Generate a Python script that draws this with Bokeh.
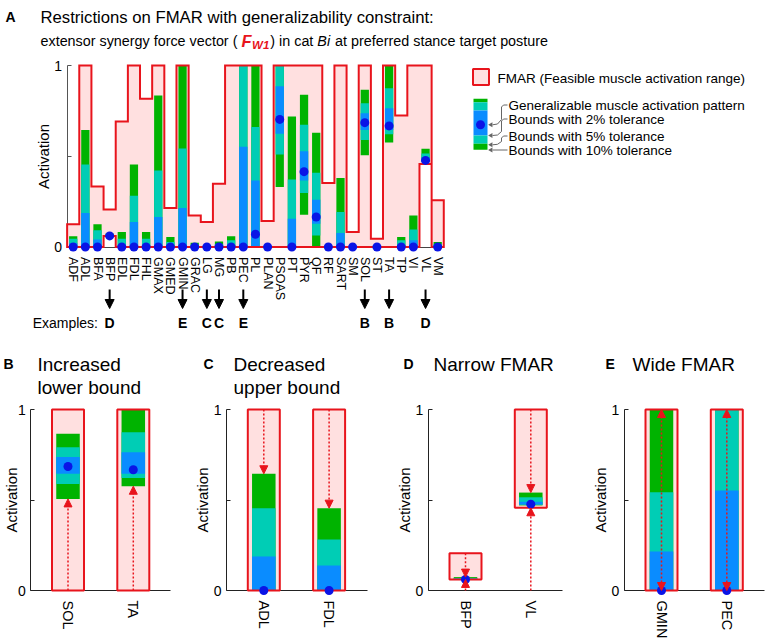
import math
from bokeh.plotting import figure
from bokeh.models import Range1d, LinearAxis, FixedTicker, ColumnDataSource, Arrow, NormalHead
from bokeh.core.properties import value
from bokeh.embed import file_html
from bokeh.resources import INLINE

# ---------------- data ----------------
muscles = ["ADF", "ADL", "BFA", "BFP", "EDL", "FDL", "FHL", "GMAX", "GMED", "GMIN",
           "GRAC", "LG", "MG", "PB", "PEC", "PL", "PLAN", "PSOAS", "PT", "PYR",
           "QF", "RF", "SART", "SM", "SOL", "ST", "TA", "TP", "VI", "VL", "VM"]
fmar_lower = [0, 0, 0, 0.061, 0, 0, 0, 0, 0, 0,
              0, 0, 0, 0, 0, 0, 0, 0, 0, 0,
              0, 0, 0, 0, 0, 0, 0, 0, 0, 0.457, 0]
fmar_upper = [0.125, 1, 0.334, 0.206, 0.692, 1, 0.817, 1, 0.215, 1,
              0.174, 0.138, 0.349, 1, 1, 1, 0.143, 1, 1, 1,
              1, 0.352, 1, 0.083, 1, 0.046, 1, 0.725, 1, 1, 0.257]
tol10_lower = [0, 0, 0, 0.058, 0, 0, 0, 0, 0, 0,
               0, 0, 0, 0, 0, 0, 0, 0.330, 0, 0.178,
               0, 0, 0, 0, 0.506, 0, 0.576, 0, 0, 0.470, 0]
tol5_lower = [0, 0, 0, 0.060, 0, 0, 0, 0, 0, 0,
              0, 0, 0, 0, 0, 0, 0, 0.510, 0, 0.297,
              0.064, 0, 0, 0, 0.589, 0, 0.621, 0, 0, 0.473, 0]
tol2_lower = [0, 0, 0, 0.061, 0, 0, 0, 0, 0, 0,
              0, 0, 0, 0, 0, 0, 0, 0.624, 0, 0.367,
              0.128, 0, 0, 0, 0.645, 0, 0.645, 0, 0, 0.475, 0]
tol2_upper = [0.022, 0.188, 0.042, 0.066, 0.010, 0.138, 0.010, 0.165, 0.005, 0.215,
              0.005, 0, 0.005, 0.010, 0.552, 0.367, 0, 0.886, 0.156, 0.527,
              0.261, 0, 0.077, 0, 0.737, 0, 0.764, 0.010, 0.037, 0.490, 0.005]
tol5_upper = [0.046, 0.455, 0.092, 0.069, 0.046, 0.282, 0.046, 0.422, 0.028, 0.543,
              0.012, 0, 0.015, 0.037, 1.0, 0.661, 0, 1.0, 0.372, 0.673,
              0.409, 0, 0.193, 0, 0.792, 0, 0.875, 0.037, 0.097, 0.515, 0.015]
tol10_upper = [0.059, 0.645, 0.125, 0.074, 0.083, 0.455, 0.083, 0.835, 0.055, 1.0,
               0.024, 0, 0.030, 0.059, 1.0, 1.0, 0, 1.0, 0.719, 0.839,
               0.629, 0, 0.380, 0, 0.866, 0, 1.0, 0.055, 0.174, 0.541, 0.028]
pattern = [0, 0, 0, 0.061, 0, 0, 0, 0, 0, 0,
           0, 0, 0, 0, 0, 0.070, 0, 0.703, 0, 0.415,
           0.165, 0, 0, 0, 0.685, 0, 0.667, 0, 0, 0.477, 0]

example_muscles = ["BFP", "GMIN", "LG", "MG", "PEC", "SOL", "TA", "VL"]
example_letters = ["D", "E", "C", "C", "E", "B", "B", "D"]

panel_letters = ["B", "C", "D", "E"]
panel_titles = [["Increased", "lower bound"], ["Decreased", "upper bound"],
                ["Narrow FMAR"], ["Wide FMAR"]]
panel_muscles = [["SOL", "TA"], ["ADL", "FDL"], ["BFP", "VL"], ["GMIN", "PEC"]]
panel_kinds = ["lower", "upper", "narrow", "wide"]

# ---------------- layout / style ----------------
FIG_W, FIG_H, MARGIN = 767, 643, 0
FONT = "Liberation Sans"
PINK, RED = "#FFE0E0", "#E8141C"
GREEN, CYAN, BLUE, DOT = "#00B300", "#00CDB5", "#0A8CFF", "#0A14E6"

A_X0, A_KX = 72.7, 12.15      # page x of first muscle, px per muscle
A_Y0, A_KY = 246.5, 181.5     # page y of activation 0, px per unit
P_Y0, P_KY = 590.0, 181.0     # bottom panels
P_KX = 65.3
P_C1 = [67.5, 263.3, 465.0, 661.0]
P_XSTART = 0.43
P_XEND = [2.57, 2.59, 2.49, 2.57]
P_YLABEL_STANDOFF = [-5, 0, 0, 0]
P_LETTER_X = [3, 203, 403, 605]
P_TITLE_X = [37, 233, 433, 632]


def range_x(v, p_page, k):
    return Range1d(start=v - (p_page - MARGIN) / k, end=v + (MARGIN + FIG_W - p_page) / k)


def range_y(v, p_page, k):
    return Range1d(start=v - (MARGIN + FIG_H - p_page) / k, end=v + (p_page - MARGIN) / k)


def ax(p):
    return (p - A_X0) / A_KX


def ay(p):
    return (A_Y0 - p) / A_KY


AW = {' ': 278, '(': 333, ')': 333, ':': 278, 'a': 556, 'b': 556, 'c': 500, 'd': 556,
      'e': 556, 'f': 278, 'g': 556, 'h': 556, 'i': 222, 'k': 500, 'l': 222, 'm': 833,
      'n': 556, 'o': 556, 'p': 556, 'r': 333, 's': 500, 't': 278, 'u': 556, 'v': 500,
      'w': 722, 'x': 500, 'y': 500, 'z': 500, 'A': 667, 'B': 667, 'F': 611, 'W': 944, '1': 556}


def tw(s, size):
    return sum(AW.get(c, 556) for c in s) * size / 1000.0


p = figure(width=FIG_W, height=FIG_H,
           x_range=range_x(0, A_X0, A_KX), y_range=range_y(0, A_Y0, A_KY),
           x_axis_type=None, y_axis_type=None, toolbar_location=None,
           output_backend="svg", min_border=0, outline_line_color=None)
p.title.visible = False
p.background_fill_color = "white"
p.border_fill_color = "white"

p.extra_y_ranges = {"yP": range_y(0, P_Y0, P_KY)}
p.extra_x_ranges = {f"x{k}": range_x(1, P_C1[k], P_KX) for k in range(4)}


def txt(x, y, s, size, style="normal", color="black", align="left",
        baseline="alphabetic", **kw):
    p.text(x=x if isinstance(x, list) else [x], y=y if isinstance(y, list) else [y],
           text=s if isinstance(s, list) else [s],
           text_font=value(FONT), text_font_size=f"{size}px", text_font_style=style,
           text_color=color, text_align=align, text_baseline=baseline, **kw)


def style_axis(a, color, label_size, standoff):
    a.level = "underlay"
    a.axis_line_color = color
    a.axis_line_width = 1
    a.major_tick_line_color = color
    a.major_tick_in = 4
    a.major_tick_out = 0
    a.minor_tick_line_color = None
    a.major_label_text_font = FONT
    a.major_label_text_font_size = f"{label_size}px"
    a.major_label_text_color = "black"
    a.major_label_standoff = standoff
    a.axis_label_text_font = FONT
    a.axis_label_text_font_size = "15px"
    a.axis_label_text_font_style = "normal"
    a.axis_label_text_color = "black"


# ---------------- panel A ----------------
n = len(muscles)
idx = list(range(n))
poly_x, poly_y = [], []
for i in idx:
    poly_x += [i - 0.5, i + 0.5]
    poly_y += [fmar_upper[i], fmar_upper[i]]
for i in reversed(idx):
    poly_x += [i + 0.5, i - 0.5]
    poly_y += [fmar_lower[i], fmar_lower[i]]

src = ColumnDataSource(dict(x=idx, lo10=tol10_lower, lo5=tol5_lower, lo2=tol2_lower,
                            hi2=tol2_upper, hi5=tol5_upper, hi10=tol10_upper, pat=pattern))

yA = LinearAxis(fixed_location=-0.5, bounds=(0, 1), ticker=FixedTicker(ticks=[0, 0.5, 1]),
                major_label_overrides={0: "0", 0.5: "", 1: "1"}, axis_label="Activation",
                axis_label_standoff=0)
style_axis(yA, "#555555", 14, 5)
p.add_layout(yA, "left")
xA = LinearAxis(fixed_location=0, bounds=(-0.5, n - 0.5), ticker=FixedTicker(ticks=idx),
                major_label_overrides={i: m for i, m in zip(idx, muscles)},
                major_label_orientation="vertical")
style_axis(xA, "#444444", 12.5, 10)
xA.major_tick_line_color = None
p.add_layout(xA, "below")

p.patch(poly_x, poly_y, fill_color=PINK, line_color=None)
p.vbar(x="x", width=0.68, bottom="lo10", top="hi10", source=src, fill_color=GREEN, line_color=None)
p.vbar(x="x", width=0.68, bottom="lo5", top="hi5", source=src, fill_color=CYAN, line_color=None)
p.vbar(x="x", width=0.68, bottom="lo2", top="hi2", source=src, fill_color=BLUE, line_color=None)
p.patch(poly_x, poly_y, fill_color=None, line_color=RED, line_width=2, line_join="miter")
p.scatter("x", "pat", source=src, size=9, fill_color=DOT, line_color=None)

# titles
txt(ax(5), ay(16), "A", 14, "bold")
txt(ax(40), ay(16.5), "Restrictions on FMAR with generalizability constraint:", 16.7)
L2 = 14.35
s1 = "extensor synergy force vector ("
x1 = 40
xF = x1 + tw(s1 + " ", L2)
xW = xF + tw("F", 16.5) + 0.5
xP = xW + tw("W1", 11.5) + 1
s4 = ") in cat"
xB = xP + tw(s4 + " ", L2)
xR = xB + tw("Bi ", L2) + 1
txt(ax(x1), ay(40.5), s1, L2)
txt(ax(xF), ay(40.5), "F", 16.5, "bold italic", RED)
txt(ax(xW), ay(44), "W1", 11.5, "bold italic", RED)
txt(ax(xP), ay(40.5), s4, L2)
txt(ax(xB), ay(40.5), "Bi", L2, "italic")
txt(ax(xR), ay(40.5), "at preferred stance target posture", L2)

# examples row
ex_x = [muscles.index(m) for m in example_muscles]
ex_src = ColumnDataSource(dict(x0=ex_x, y0=[ay(289)] * len(ex_x), y1=[ay(308)] * len(ex_x)))
p.add_layout(Arrow(source=ex_src, x_start="x0", y_start="y0", x_end="x0", y_end="y1",
                   line_color="black", line_width=2,
                   end=NormalHead(size=9, fill_color="black", line_color="black")))
txt(ex_x, [ay(322)] * len(ex_x), example_letters, 14, "bold", align="center")
txt(ax(97.5), ay(322), "Examples:", 14, align="right")

# legend (key drawn at fixed pixel positions)
txt(ax(497), ay(77.5), "FMAR (Feasible muscle activation range)", 13.5, baseline="middle")
p.rect(x=[ax(480.5)], y=[ay(76.5)], width=16, height=16, width_units="screen",
       height_units="screen", fill_color=PINK, line_color=RED, line_width=2)
leg_segments = [(98.3, 101.7, GREEN), (101.7, 110, CYAN), (110, 135, BLUE),
                (135, 143.3, CYAN), (143.3, 149.3, GREEN)]
p.quad(left=[ax(473)] * 5, right=[ax(487)] * 5, top=[ay(s[0]) for s in leg_segments],
       bottom=[ay(s[1]) for s in leg_segments], fill_color=[s[2] for s in leg_segments],
       line_color=None)
p.scatter(x=[ax(480)], y=[ay(124.3)], size=9, fill_color=DOT, line_color=None)
leg_text = ["Generalizable muscle activation pattern", "Bounds with 2% tolerance",
            "Bounds with 5% tolerance", "Bounds with 10% tolerance"]
leg_ty = [104.5, 118.5, 135.5, 149.5]
leg_paths = [
    [(507, 104.5), (503, 104.5), (501, 106.5), (501, 119), (497, 123.5), (492, 124.3)],
    [(507, 118.5), (503, 118.5), (501, 120.5), (501, 131), (497, 134.5), (492, 135)],
    [(507, 135.5), (503, 135.5), (501, 137.5), (501, 141), (497, 143.8), (492, 144.3)],
    [(507, 149.5), (492, 149.5)],
]
p.multi_line(xs=[[ax(a) for a, b in pth] for pth in leg_paths],
             ys=[[ay(b) for a, b in pth] for pth in leg_paths], line_color="#666666", line_width=1)
p.scatter(x=[ax(pth[-1][0] - 1.5) for pth in leg_paths], y=[ay(pth[-1][1]) for pth in leg_paths],
          marker="triangle", angle=math.pi / 2, size=5, fill_color="#666666", line_color=None)
txt([ax(508)] * 4, [ay(v) for v in leg_ty], leg_text, 13.5, baseline="middle")

# ---------------- panels B-E ----------------
for k in range(4):
    xn = f"x{k}"
    names = panel_muscles[k]
    ii = [muscles.index(m) for m in names]
    xs = [1, 2]
    rn = dict(x_range_name=xn, y_range_name="yP")

    ya = LinearAxis(fixed_location=P_XSTART, bounds=(0, 1), ticker=FixedTicker(ticks=[0, 0.5, 1]),
                    major_label_overrides={0: "0", 0.5: "", 1: "1"}, axis_label="Activation",
                    axis_label_standoff=P_YLABEL_STANDOFF[k], **rn)
    style_axis(ya, "#222222", 14, 5)
    p.add_layout(ya, "left")
    xa = LinearAxis(fixed_location=0, bounds=(P_XSTART, P_XEND[k]), ticker=FixedTicker(ticks=xs),
                    major_label_overrides={1: names[0], 2: names[1]},
                    major_label_orientation="vertical", **rn)
    style_axis(xa, "#222222", 14.5, 10)
    xa.major_tick_line_color = None
    p.add_layout(xa, "below")

    ps = ColumnDataSource(dict(
        x=xs, flo=[fmar_lower[i] for i in ii], fhi=[fmar_upper[i] for i in ii],
        lo10=[tol10_lower[i] for i in ii], lo5=[tol5_lower[i] for i in ii],
        lo2=[tol2_lower[i] for i in ii], hi2=[tol2_upper[i] for i in ii],
        hi5=[tol5_upper[i] for i in ii], hi10=[tol10_upper[i] for i in ii],
        pat=[pattern[i] for i in ii]))
    p.vbar(x="x", width=0.49, bottom="flo", top="fhi", source=ps, fill_color=PINK, line_color=None, **rn)
    p.vbar(x="x", width=0.36, bottom="lo10", top="hi10", source=ps, fill_color=GREEN, line_color=None, **rn)
    p.vbar(x="x", width=0.36, bottom="lo5", top="hi5", source=ps, fill_color=CYAN, line_color=None, **rn)
    p.vbar(x="x", width=0.36, bottom="lo2", top="hi2", source=ps, fill_color=BLUE, line_color=None, **rn)
    p.vbar(x="x", width=0.49, bottom="flo", top="fhi", source=ps, fill_color=None, line_color=RED,
           line_width=2, **rn)

    arrows = []
    for x, i in zip(xs, ii):
        if panel_kinds[k] == "lower":
            arrows.append((x, 0, tol10_lower[i], False))
        elif panel_kinds[k] == "upper":
            arrows.append((x, fmar_upper[i], tol10_upper[i], False))
        elif panel_kinds[k] == "narrow":
            arrows.append((x, 0, fmar_lower[i], False))
            arrows.append((x, fmar_upper[i], tol10_upper[i], False))
        else:
            arrows.append((x, fmar_lower[i], fmar_upper[i], True))
    for x, y0, y1, both in arrows:
        kw = dict(end=NormalHead(size=8, fill_color=RED, line_color=RED, line_width=1))
        if both:
            kw["start"] = NormalHead(size=8, fill_color=RED, line_color=RED, line_width=1)
        p.add_layout(Arrow(x_start=x, y_start=y0, x_end=x, y_end=y1, line_color=RED,
                           line_width=1.5, line_dash="2 2", **kw, **rn))
    p.scatter("x", "pat", source=ps, size=9, fill_color=DOT, line_color=None, **rn)

    txt(ax(P_LETTER_X[k]), ay(363), panel_letters[k], 14, "bold")
    for j, line in enumerate(panel_titles[k]):
        txt(ax(P_TITLE_X[k]), ay(364 + 23 * j), line, 19)

open("out.html", "w").write(file_html(p, INLINE))
